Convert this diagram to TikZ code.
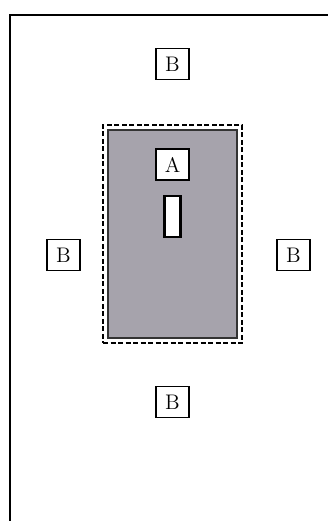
\documentclass[tikz,border=0pt]{standalone}
\usetikzlibrary{positioning}
\definecolor{zonegray}{RGB}{166,163,172}

\begin{document}
\begin{tikzpicture}
    [
        node distance=34mm and 22mm, on grid, inner sep=0pt,
        label_box/.style={rectangle, draw=black, fill=white, thick, font=\large, minimum width=6.6mm, minimum height=6.2mm},
        zone_box/.style={rectangle, draw=black!80, fill=zonegray, semithick, minimum width=25.8mm, minimum height=41.6mm},
        guard_box/.style={rectangle, draw=black, dash pattern=on 1mm off 0.5mm, semithick, minimum width=27.8mm, minimum height=43.6mm},
    ]
        \useasboundingbox (0,0) rectangle (6.56,-10.42) ;
        \draw[very thick] (0.2,-10.42) -- (0.2,-0.3) -- (6.56,-0.3) ;
        \node[guard_box] (guard) at (3.45,-4.68) {} ;
        \node[zone_box] (zone) at (3.45,-4.68) {} ;
        \node[label_box] (a) [above = 13.9mm of zone] {A} ;
        \node[rectangle, draw=black, fill=white, very thick, minimum width=3.2mm, minimum height=8.2mm] (slot) [above = 3.5mm of zone] {} ;
        \node[label_box] (btop) [above = of zone] {B} ;
        \node[label_box] (bbottom) [below = 33.6mm of zone] {B} ;
        \node[label_box] (bleft) [below left = 4.2mm and 21.8mm of zone] {B} ;
        \node[label_box] (bright) [below right = 4.2mm and 24.2mm of zone] {B} ;
    \end{tikzpicture}
\end{document}
